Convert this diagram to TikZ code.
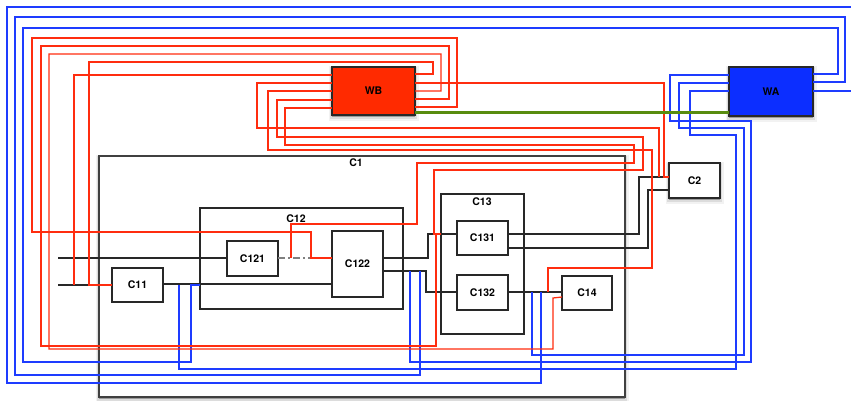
\documentclass[tikz,border=0pt]{standalone}
\usepackage{fontspec}
\setmainfont{TeX Gyre Heros}
\usetikzlibrary{shadows}
\definecolor{wbred}{RGB}{255,42,0}
\definecolor{wablue}{RGB}{12,46,255}
\definecolor{redw}{RGB}{255,45,15}
\definecolor{bluew}{RGB}{30,60,255}
\definecolor{greenw}{RGB}{88,140,14}
\definecolor{wire}{RGB}{40,40,40}
\begin{document}
\begin{tikzpicture}[x=1pt,y=-1pt,
  font=\fontsize{10.5}{12}\selectfont\bfseries,
  box/.style={draw=wire, line width=1.1pt, fill=white, anchor=north west, inner sep=0pt, outer sep=0pt},
  lbl/.style={inner sep=0pt},
  softshadow/.style={
    general shadow={fill=black, draw=black, line width=7pt, opacity=0.05, shadow yshift=-2pt},
    general shadow={fill=black, draw=black, line width=3.5pt, opacity=0.09, shadow yshift=-2pt},
    general shadow={fill=black, opacity=0.18, shadow yshift=-2pt}},
  bw/.style={draw=wire, line width=1.15pt},
  rw/.style={draw=redw, line width=1.25pt},
  blw/.style={draw=bluew, line width=1.25pt},
  ]
\useasboundingbox (0,0) rectangle (851,400);
% ---------- boxes ----------
\node[box, softshadow, draw=black!75, line width=1.6pt, minimum width=526pt, minimum height=241pt] (C1) at (99,156) {};
\node[lbl] (C1l) at (356,163) {C1};
\node[box, minimum width=203pt, minimum height=101pt] (C12) at (200,208) {};
\node[lbl] (C12l) at (296,219) {C12};
\node[box, minimum width=83pt, minimum height=140pt] (C13) at (441,194) {};
\node[lbl] (C13l) at (482,202) {C13};
\node[box, minimum width=51pt, minimum height=34pt] (C11) at (112,268) {C11};
\node[box, minimum width=51pt, minimum height=35pt] (C121) at (227,241) {C121};
\node[box, minimum width=51pt, minimum height=66pt] (C122) at (332,231) {C122};
\node[box, minimum width=51pt, minimum height=34pt] (C131) at (457,221) {C131};
\node[box, minimum width=51pt, minimum height=35pt] (C132) at (457,275) {C132};
\node[box, minimum width=50pt, minimum height=34pt] (C14) at (562,276) {C14};
\node[box, softshadow, minimum width=51pt, minimum height=35pt] (C2) at (669,163) {C2};
\node[box, softshadow, fill=wbred, minimum width=83pt, minimum height=48pt] (WB) at (332,67) {WB};
\node[box, softshadow, fill=wablue, minimum width=84pt, minimum height=49pt] (WA) at (729,67) {WA};
% ---------- free ends / junctions ----------
\coordinate (in1) at (58,258);
\coordinate (in2) at (58,285);
\coordinate (offA) at (860,7);
\coordinate (offB) at (860,91);
% ---------- black wires ----------
\draw[bw] (in1) -- (C121.west |- 0,258);
\draw[bw] (in2) -- (C11.west |- 0,285);
\draw[bw] (C11.east |- 0,284) -- (C122.west |- 0,284);
\draw[draw=gray, line width=1.15pt, dash pattern=on 7pt off 3pt on 2pt off 3pt] (C121.east |- 0,258) -- (C122.west |- 0,258);
\draw[bw] (C122.east |- 0,258) -- (428,258) -- (428,234) -- (C131.west |- 0,234);
\draw[bw] (C122.east |- 0,271) -- (426,271) -- (426,292) -- (C132.west |- 0,292);
\draw[bw] (C131.east |- 0,234) -- (639,234) -- (639,177) -- (C2.west |- 0,177);
\draw[bw] (C131.east |- 0,248) -- (648,248) -- (648,190) -- (C2.west |- 0,190);
\draw[bw] (C132.east |- 0,292) -- (C14.west |- 0,292);
% ---------- blue wires ----------
\draw[blw] (WA.west |- 0,75) -- (670,75) -- (670,121) -- (751,121) -- (751,362) -- (410,362) -- (410,271);
\draw[blw] (WA.west |- 0,83) -- (679,83) -- (679,128) -- (744,128) -- (744,355) -- (532,355) -- (532,292);
\draw[blw] (WA.west |- 0,91) -- (690,91) -- (690,135) -- (736,135) -- (736,369) -- (179,369) -- (179,285);
\draw[blw] (WA.east |- 0,74) -- (838,74) -- (838,28) -- (23,28) -- (23,362) -- (191,362) -- (191,285) -- (200,285);
\draw[blw] (WA.east |- 0,82) -- (845,82) -- (845,17) -- (15,17) -- (15,375) -- (420,375) -- (420,271);
\draw[blw] (WA.east |- 0,91) -- (offB);
\draw[blw] (541,292) -- (541,383) -- (7,383) -- (7,7) -- (offA);
% ---------- red wires ----------
\draw[rw] (WB.east |- 0,107) -- (457,107) -- (457,38) -- (32,38) -- (32,232) -- (311,232) -- (311,258) -- (C122.west |- 0,258);
\draw[rw] (WB.east |- 0,99) -- (449,99) -- (449,46) -- (41,46) -- (41,346) -- (436,346) -- (436,234);
\draw[rw] (WB.east |- 0,91) -- (441,91) -- (441,54) -- (49,54) -- (49,349) -- (553,349) -- (553,298) -- (C14.west |- 0,297);
\draw[rw] (WB.east |- 0,83) -- (664,83) -- (664,177) -- (C2.west |- 0,177);
\draw[rw] (WB.east |- 0,74) -- (433,74) -- (433,62) -- (89,62) -- (89,285) -- (C11.west |- 0,285);
\draw[rw] (WB.west |- 0,75) -- (74,75) -- (74,285);
\draw[rw] (WB.west |- 0,83) -- (257,83) -- (257,128) -- (659,128) -- (659,177);
\draw[rw] (WB.west |- 0,91) -- (268,91) -- (268,150) -- (652,150) -- (652,268) -- (548,268) -- (548,292);
\draw[rw] (WB.west |- 0,100) -- (277,100) -- (277,137) -- (643,137) -- (643,170) -- (434,170) -- (434,234) -- (441,234);
\draw[rw] (WB.west |- 0,108) -- (285,108) -- (285,145) -- (634,145) -- (634,163) -- (417,163) -- (417,224) -- (291,224) -- (291,258);
% ---------- green link ----------
\draw[draw=greenw, line width=3pt] (WB.east |- 0,112) -- (WA.west |- 0,112);
\end{tikzpicture}
\end{document}
